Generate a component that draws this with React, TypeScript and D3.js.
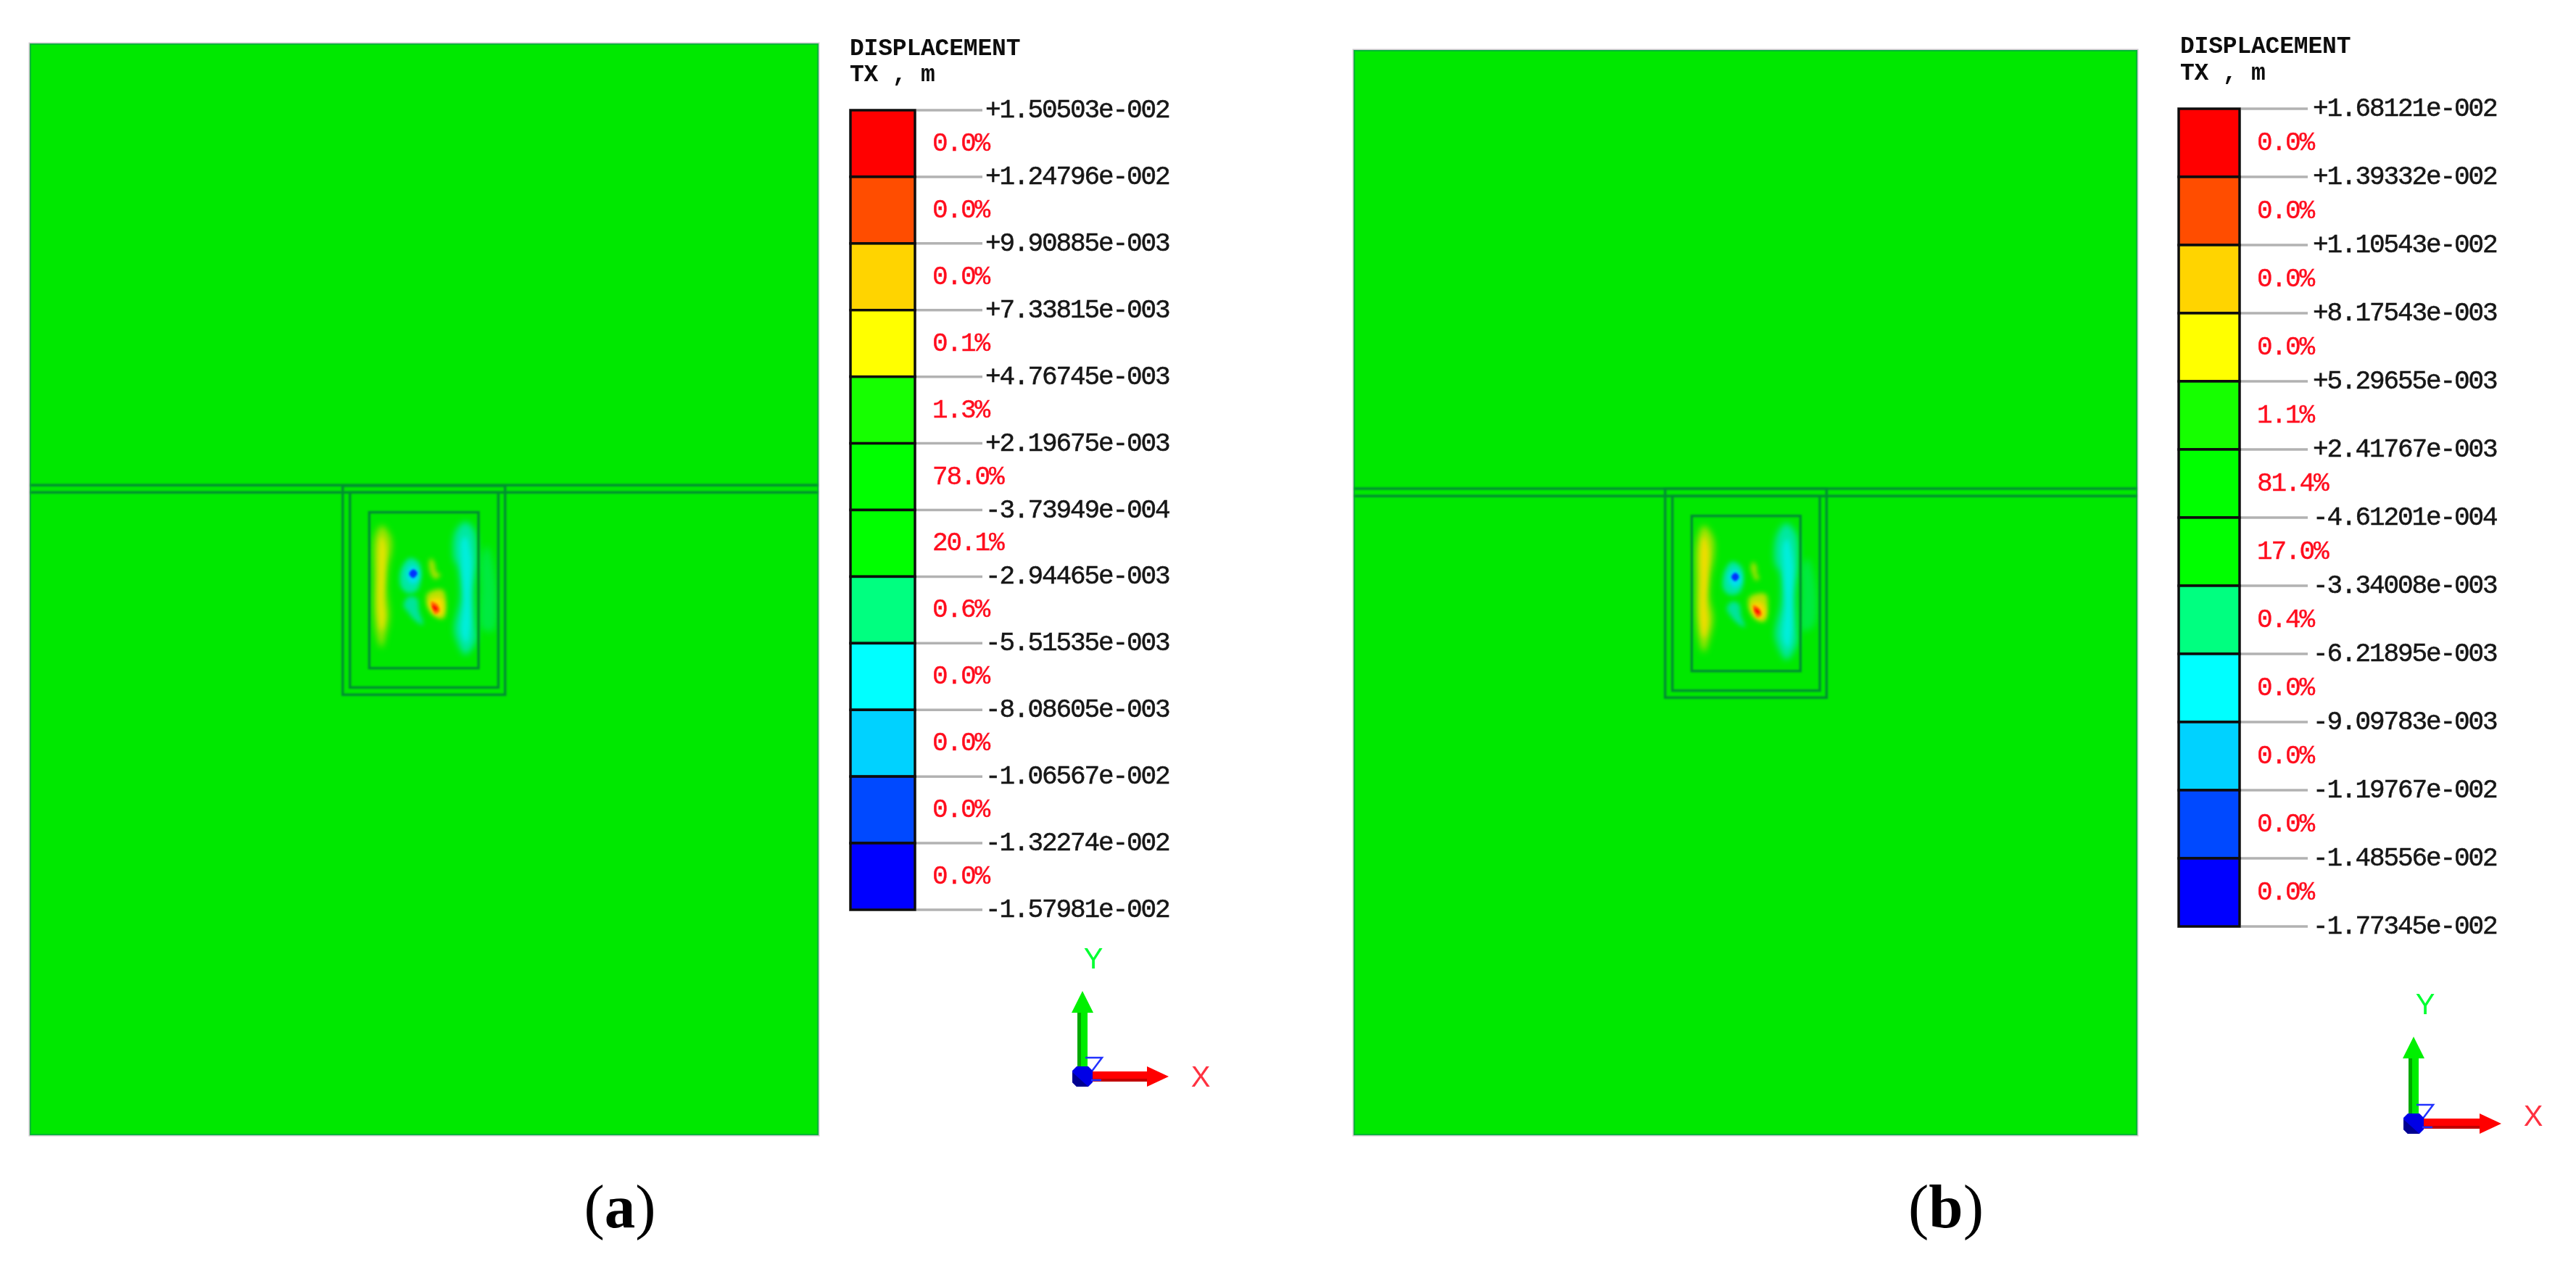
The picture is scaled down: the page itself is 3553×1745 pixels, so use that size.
import React from "react";
import * as d3 from "d3";

type Pt = [number, number];
type Patch = { color: string; blur: "soft" | "mid" | "sharp"; pts: Pt[] };

const bandColors = ["#ff0000", "#ff4d00", "#ffd400", "#ffff00", "#18ff00", "#00ff00", "#00ff00", "#00ff80", "#00ffff", "#00d2ff", "#0048ff", "#0000ff"];

const levelLabelsA = ["+1.50503e-002", "+1.24796e-002", "+9.90885e-003", "+7.33815e-003", "+4.76745e-003", "+2.19675e-003", "-3.73949e-004", "-2.94465e-003", "-5.51535e-003", "-8.08605e-003", "-1.06567e-002", "-1.32274e-002", "-1.57981e-002"];
const percentLabelsA = ["0.0%", "0.0%", "0.0%", "0.1%", "1.3%", "78.0%", "20.1%", "0.6%", "0.0%", "0.0%", "0.0%", "0.0%"];
const levelLabelsB = ["+1.68121e-002", "+1.39332e-002", "+1.10543e-002", "+8.17543e-003", "+5.29655e-003", "+2.41767e-003", "-4.61201e-004", "-3.34008e-003", "-6.21895e-003", "-9.09783e-003", "-1.19767e-002", "-1.48556e-002", "-1.77345e-002"];
const percentLabelsB = ["0.0%", "0.0%", "0.0%", "0.0%", "1.1%", "81.4%", "17.0%", "0.4%", "0.0%", "0.0%", "0.0%", "0.0%"];

const titleLines = ["DISPLACEMENT", "TX , m"];

const patchesA: Patch[] = [
  { color: "#00ea40", blur: "soft", pts: [[695, 340], [730, 470], [722, 690], [672, 680], [668, 520], [670, 400]] },
  { color: "#9fe400", blur: "soft", pts: [[260, 255], [295, 300], [300, 350], [285, 430], [280, 520], [290, 630], [275, 710], [258, 760], [240, 710], [228, 620], [228, 480], [232, 300]] },
  { color: "#e2e400", blur: "mid", pts: [[258, 300], [275, 340], [272, 450], [268, 560], [272, 640], [258, 690], [245, 620], [245, 450], [248, 340]] },
  { color: "#00e8a0", blur: "soft", pts: [[605, 240], [640, 270], [655, 380], [640, 520], [645, 650], [650, 730], [605, 790], [570, 730], [560, 680], [585, 550], [575, 430], [558, 390], [565, 280]] },
  { color: "#00eedc", blur: "mid", pts: [[607, 300], [630, 400], [625, 540], [625, 680], [610, 740], [590, 700], [600, 560], [590, 420], [590, 320]] },
  { color: "#00e8a0", blur: "mid", pts: [[375, 390], [415, 410], [420, 480], [405, 525], [370, 535], [340, 510], [338, 440]] },
  { color: "#00e0f0", blur: "mid", pts: [[385, 420], [412, 440], [412, 480], [385, 497], [365, 475], [365, 440]] },
  { color: "#0030ff", blur: "sharp", pts: [[390, 436], [407, 452], [390, 472], [373, 455]] },
  { color: "#a8e200", blur: "mid", pts: [[463, 390], [478, 410], [485, 445], [503, 460], [480, 477], [465, 460], [455, 410]] },
  { color: "#00e49a", blur: "mid", pts: [[370, 550], [405, 555], [415, 610], [430, 665], [400, 650], [365, 610], [350, 585]] },
  { color: "#b8e200", blur: "mid", pts: [[450, 535], [510, 520], [525, 560], [515, 640], [470, 625], [445, 575]] },
  { color: "#ffd800", blur: "mid", pts: [[468, 558], [503, 555], [515, 595], [505, 628], [476, 615], [455, 572]] },
  { color: "#ff7a00", blur: "sharp", pts: [[464, 570], [490, 580], [500, 610], [480, 622]] },
  { color: "#ff1000", blur: "sharp", pts: [[470, 582], [490, 596], [489, 608], [475, 603]] },
];

const patchesB: Patch[] = [
  { color: "#00ea40", blur: "soft", pts: [[640, 360], [672, 470], [665, 640], [615, 660], [612, 500], [615, 400]] },
  { color: "#a8e400", blur: "soft", pts: [[210, 225], [248, 275], [252, 350], [236, 440], [232, 520], [248, 610], [230, 700], [210, 750], [192, 700], [180, 610], [178, 470], [182, 290]] },
  { color: "#f0dc00", blur: "mid", pts: [[210, 270], [228, 320], [225, 440], [220, 540], [226, 630], [210, 690], [196, 620], [197, 440], [198, 320]] },
  { color: "#00e8a0", blur: "soft", pts: [[550, 215], [590, 255], [602, 370], [588, 500], [592, 630], [596, 710], [552, 780], [515, 720], [505, 670], [530, 540], [525, 420], [505, 380], [512, 265]] },
  { color: "#00eedc", blur: "mid", pts: [[555, 280], [580, 390], [574, 530], [574, 670], [558, 730], [538, 690], [548, 550], [540, 410], [538, 310]] },
  { color: "#00e8a0", blur: "mid", pts: [[325, 375], [365, 395], [372, 465], [355, 505], [318, 512], [292, 490], [294, 420]] },
  { color: "#00e0f0", blur: "mid", pts: [[337, 405], [362, 425], [362, 465], [337, 482], [316, 460], [316, 425]] },
  { color: "#0030ff", blur: "sharp", pts: [[340, 420], [356, 437], [340, 455], [324, 438]] },
  { color: "#a8e200", blur: "mid", pts: [[415, 375], [428, 395], [430, 425], [440, 442], [425, 452], [412, 425], [405, 395]] },
  { color: "#00e49a", blur: "mid", pts: [[325, 540], [355, 548], [365, 600], [380, 645], [350, 630], [318, 595], [305, 568]] },
  { color: "#b8e200", blur: "mid", pts: [[400, 520], [465, 508], [475, 550], [462, 622], [420, 610], [395, 560]] },
  { color: "#ffd000", blur: "mid", pts: [[415, 545], [450, 545], [465, 585], [452, 612], [425, 600], [405, 558]] },
  { color: "#ff7a00", blur: "sharp", pts: [[414, 555], [438, 565], [450, 595], [430, 605]] },
  { color: "#ff1000", blur: "sharp", pts: [[420, 566], [440, 578], [440, 592], [426, 586]] },
];

// Model outlines in crop units (the crop is 300 x 340 px, 3 units to a pixel)
const outerRectA = [98, 770, 90, 955];
const middleRectA = [128, 742, 118, 925];
const innerRectA = [208, 660, 200, 845];
const beamYA = [88, 118];
const outerRectB = [50, 718, 72, 937];
const middleRectB = [80, 690, 103, 908];
const innerRectB = [160, 610, 185, 827];
const beamYB = [72, 103];

const GREEN = "#00e800";
const LINE = "#008f30";
const EDGE = "#00b834";
const MONO = "'Liberation Mono', 'DejaVu Sans Mono', monospace";

function Section({ frame, cropX, cropY, rects, beams, patches }: any) {
  const x = d3.scaleLinear().domain([0, 900]).range([cropX, cropX + 300]);
  const y = d3.scaleLinear().domain([0, 1020]).range([cropY, cropY + 340]);
  const path = d3.line<Pt>().x((d) => x(d[0])).y((d) => y(d[1])).curve(d3.curveCatmullRomClosed.alpha(0.5));
  const filterOf = { soft: "url(#blurSoft)", mid: "url(#blurMid)", sharp: "url(#blurSharp)" } as const;
  return (
    <g>
      <rect x={frame[0] - 1.5} y={frame[2] - 1.5} width={frame[1] - frame[0] + 3} height={frame[3] - frame[2] + 3} fill="none" stroke="#cfc8cf" strokeWidth={2} />
      <rect x={frame[0]} y={frame[2]} width={frame[1] - frame[0]} height={frame[3] - frame[2]} fill={GREEN} stroke={EDGE} strokeWidth={2} />
      {patches.map((p: Patch, i: number) => (
        <path key={i} d={path(p.pts) as string} fill={p.color} filter={filterOf[p.blur]} />
      ))}
      <g fill="none" stroke={LINE} strokeWidth={3.5} filter="url(#blurLine)">
        {beams.map((b: number, i: number) => (
          <line key={i} x1={frame[0]} x2={frame[1]} y1={y(b)} y2={y(b)} />
        ))}
        {rects.map((r: number[], i: number) => (
          <rect key={i} x={x(r[0])} y={y(r[2])} width={x(r[1]) - x(r[0])} height={y(r[3]) - y(r[2])} />
        ))}
      </g>
    </g>
  );
}

function Legend({ barX, tickEnd, labelX, pctX, top, bottom, titleX, titleY, levels, percents }: any) {
  const y = d3.scaleLinear().domain([0, bandColors.length]).range([top, bottom]);
  return (
    <g filter="url(#blurText)">
      {titleLines.map((t, i) => (
        <text key={t} x={titleX} y={titleY[i]} fontFamily={MONO} fontWeight={700} fontSize={33} letterSpacing={-0.2} fill="#111" xmlSpace="preserve">{t}</text>
      ))}
      {bandColors.map((c, i) => (
        <rect key={i} x={barX[0]} y={y(i)} width={barX[1] - barX[0]} height={y(i + 1) - y(i)} fill={c} stroke="#0a0a0a" strokeWidth={3.5} />
      ))}
      {levels.map((t: string, i: number) => (
        <g key={i}>
          <line x1={barX[1] + 2} x2={tickEnd} y1={y(i)} y2={y(i)} stroke="#b2b2b2" strokeWidth={3.5} />
          <text x={labelX} y={y(i) + 10} fontFamily={MONO} fontSize={36} letterSpacing={-2.1} fill="#151515" stroke="#151515" strokeWidth={0.5}>{t}</text>
        </g>
      ))}
      {percents.map((t: string, i: number) => (
        <text key={i} x={pctX} y={(y(i) + y(i + 1)) / 2 + 10} fontFamily={MONO} fontSize={36} letterSpacing={-2.1} fill="#ff0a1e" stroke="#ff0a1e" strokeWidth={0.4}>{t}</text>
      ))}
    </g>
  );
}

function Triad({ ox, oy, yTip, xTip, yLabel, xLabel }: any) {
  const head = 30;
  return (
    <g filter="url(#blurText)">
      <rect x={ox - 7} y={yTip + head} width={14} height={oy - yTip - head} fill="#00ee00" />
      <rect x={ox - 7} y={yTip + head} width={5} height={oy - yTip - head} fill="#00a800" />
      <path d={`M${ox},${yTip} L${ox + 15},${yTip + head} L${ox - 15},${yTip + head} Z`} fill="#00f000" />
      <rect x={ox} y={oy - 7} width={xTip - head - ox} height={14} fill="#ff0000" />
      <rect x={ox} y={oy + 3} width={xTip - head - ox} height={4} fill="#c00000" />
      <path d={`M${xTip},${oy} L${xTip - head},${oy - 14} L${xTip - head},${oy + 14} Z`} fill="#ff0000" />
      <path d={`M${ox + 4},${oy - 26} H${ox + 27} L${ox + 12},${oy - 6}`} fill="none" stroke="#2030ff" strokeWidth={2.5} />
      <path d={`M${ox - 8},${oy - 14} H${ox + 8} L${ox + 14},${oy - 8} V${oy + 8} L${ox + 8},${oy + 14} H${ox - 8} L${ox - 14},${oy + 8} V${oy - 8} Z`} fill="#0000e6" />
      <path d={`M${ox - 14},${oy + 8} V${oy - 6} L${ox + 8},${oy + 14} H${ox - 8} Z`} fill="#000090" />
      <path d={`M${ox + 12},${oy + 5} h14`} stroke="#2030ff" strokeWidth={2.5} />
      <text x={yLabel[0]} y={yLabel[1] + 14} textAnchor="middle" fontFamily="'Liberation Sans', sans-serif" fontSize={40} fill="#00ff30">Y</text>
      <text x={xLabel[0]} y={xLabel[1] + 14} textAnchor="middle" fontFamily="'Liberation Sans', sans-serif" fontSize={40} fill="#ff3040">X</text>
    </g>
  );
}

function Caption({ x, y, letter }: { x: number; y: number; letter: string }) {
  return (
    <text x={x} y={y} textAnchor="middle" fontFamily="'Liberation Serif', serif" fontSize={85} fill="#000">
      (<tspan fontWeight={700}>{letter}</tspan>)
    </text>
  );
}

export default function App() {
  return (
    <svg width={3553} height={1745} viewBox="0 0 3553 1745" style={{ position: "absolute", left: 0, top: 0, display: "block", background: "#fff" }}>
      <defs>
        <filter id="blurSoft" x="-40%" y="-40%" width="180%" height="180%"><feGaussianBlur stdDeviation={5} /></filter>
        <filter id="blurMid" x="-40%" y="-40%" width="180%" height="180%"><feGaussianBlur stdDeviation={3} /></filter>
        <filter id="blurSharp" x="-60%" y="-60%" width="220%" height="220%"><feGaussianBlur stdDeviation={1.6} /></filter>
        <filter id="blurLine" x="-5%" y="-5%" width="110%" height="110%"><feGaussianBlur stdDeviation={0.8} /></filter>
        <filter id="blurText" x="-5%" y="-5%" width="110%" height="110%"><feGaussianBlur stdDeviation={0.6} /></filter>
      </defs>

      <Section frame={[42, 1128, 61, 1565]} cropX={440} cropY={640} rects={[outerRectA, middleRectA, innerRectA]} beams={beamYA} patches={patchesA} />
      <Section frame={[1868, 2947, 70, 1565]} cropX={2280} cropY={650} rects={[outerRectB, middleRectB, innerRectB]} beams={beamYB} patches={patchesB} />

      <Legend barX={[1173, 1262]} tickEnd={1355} labelX={1359} pctX={1286} top={152} bottom={1255} titleX={1172} titleY={[76, 112]} levels={levelLabelsA} percents={percentLabelsA} />
      <Legend barX={[3005, 3089]} tickEnd={3183} labelX={3190} pctX={3113} top={150} bottom={1278} titleX={3007} titleY={[73, 110]} levels={levelLabelsB} percents={percentLabelsB} />

      <Triad ox={1493} oy={1485} yTip={1367} xTip={1612} yLabel={[1508, 1322]} xLabel={[1656, 1485]} />
      <Triad ox={3329} oy={1550} yTip={1430} xTip={3450} yLabel={[3345, 1385]} xLabel={[3494, 1539]} />

      <Caption x={855} y={1693} letter="a" />
      <Caption x={2684} y={1693} letter="b" />
    </svg>
  );
}
